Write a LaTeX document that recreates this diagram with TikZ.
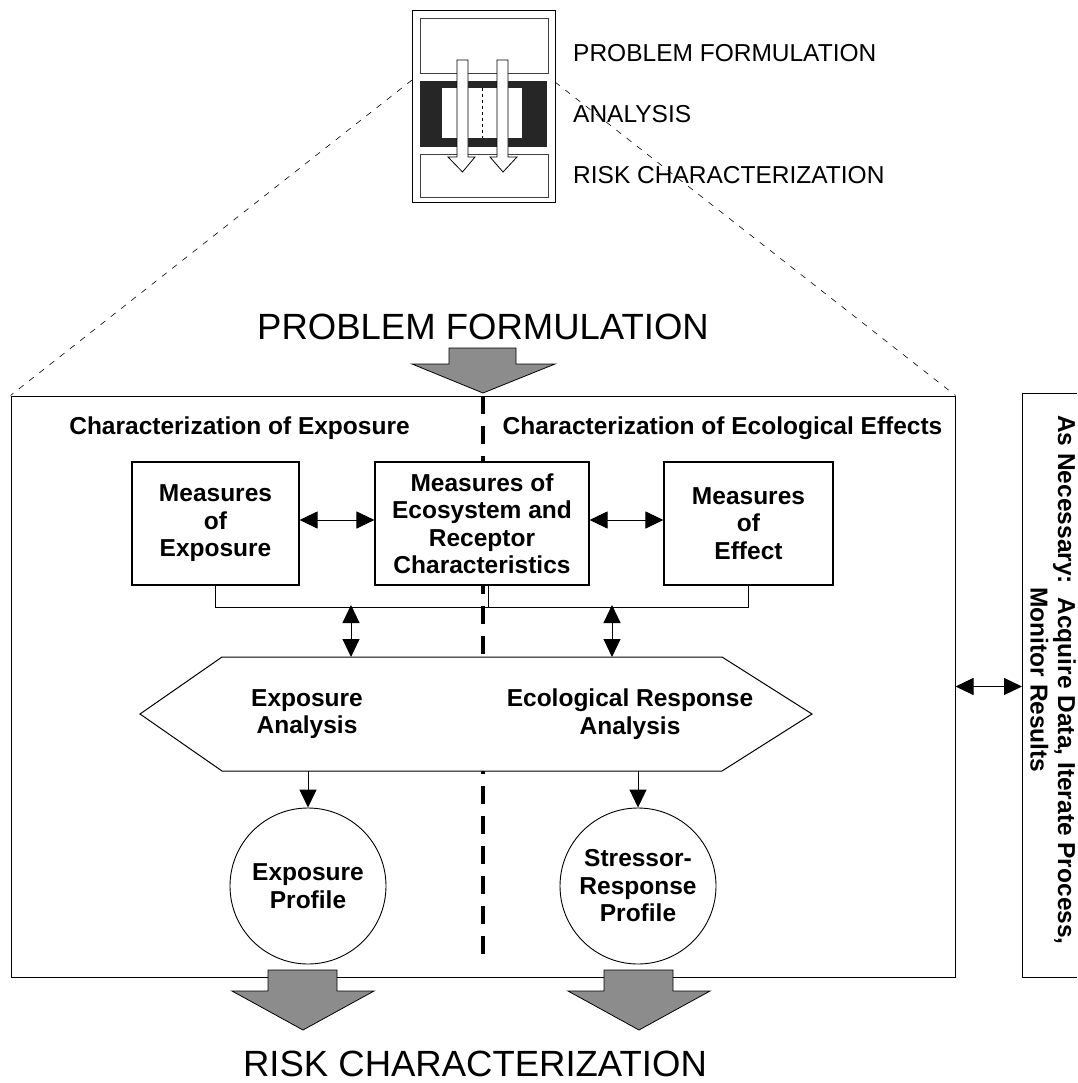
\documentclass[tikz,border=0pt]{standalone}
\usepackage{fontspec}
\setmainfont{Liberation Sans}
\usetikzlibrary{arrows.meta}

\begin{document}
\begin{tikzpicture}[x=1pt, y=-1pt,
  boxtxt/.style={font=\fontsize{24.5}{27.5}\selectfont\bfseries, align=center},
  measbox/.style={draw, line width=1.1pt, fill=white, boxtxt, minimum height=123pt, inner sep=0pt},
  profcirc/.style={circle, draw, line width=0.9pt, fill=white, boxtxt, minimum size=156pt, inner sep=0pt},
  onearrow/.style={-{Triangle[length=18pt,width=17pt]}, line width=1pt},
  dblarrow/.style={{Triangle[length=18pt,width=17pt]}-{Triangle[length=18pt,width=17pt]}, line width=1pt},
  bigarrow/.style={fill=black!45, draw=black, line width=0.8pt},
  guide/.style={line width=0.6pt, dash pattern=on 6pt off 7pt},
  biglbl/.style={font=\fontsize{36.5}{40}\selectfont, inner sep=0pt},
  smalllbl/.style={font=\fontsize{24.5}{28}\selectfont, anchor=west, inner sep=0pt}
]

\useasboundingbox (0,0) rectangle (1077,1083);

% main frame and centre line
{
\node[draw, line width=1pt, minimum width=944pt, minimum height=581pt, inner sep=0pt] (frame) at (483,686.5) {};
\draw[line width=3.5pt, dash pattern=on 18pt off 12pt] (483,396) -- (483,965);
}

% measures boxes
{
\node[measbox, minimum width=167pt] (mexp) at (215.5,523.5) {Measures\\of\\Exposure};
\node[measbox, minimum width=214pt] (meco) at (482,523.5) {Measures of\\Ecosystem and\\Receptor\\Characteristics};
\node[measbox, minimum width=169pt] (meff) at (748.5,523.5) {Measures\\of\\Effect};

\draw[dblarrow] ([yshift=3.5pt]mexp.east) -- ([yshift=3.5pt]meco.west);
\draw[dblarrow] ([yshift=3.5pt]meco.east) -- ([yshift=3.5pt]meff.west);
}

% bracket under the boxes
{
\coordinate (brA) at (351,605);
\coordinate (brB) at (612,605);
\draw[line width=0.9pt] (mexp.south) -- ++(0,21.5) -| (meff.south);
\draw[line width=0.9pt] ([xshift=6pt]meco.south) -- ++(0,21.5);
}

% analysis hexagon
{
\draw[line width=1pt, fill=white] (140,714) -- (222,657) -- (722,657) -- (812,714) -- (722,771) -- (222,771) -- cycle;
\coordinate (hexA) at (351,657);
\coordinate (hexB) at (612,657);
\coordinate (hexC) at (308,771);
\coordinate (hexD) at (638,771);
\node[boxtxt] (expan) at (307,714) {Exposure\\Analysis};
\node[boxtxt] (ecoan) at (630,714) {Ecological Response\\Analysis};

\draw[dblarrow] (brA) -- (hexA);
\draw[dblarrow] (brB) -- (hexB);
}

% profiles
{
\node[profcirc] (expprof) at (308,886) {Exposure\\Profile};
\node[profcirc] (strprof) at (638,886) {Stressor-\\Response\\Profile};
\draw[onearrow] (hexC) -- (expprof.north);
\draw[onearrow] (hexD) -- (strprof.north);
}

% column titles
\node[boxtxt, anchor=base] (chexp) at (239.5,434) {Characterization of Exposure};
\node[boxtxt, anchor=base] (checo) at (722.5,434) {Characterization of Ecological Effects};

% big labels and block arrows
{
\node[biglbl] (probform) at (483,327) {PROBLEM FORMULATION};
\node[biglbl] (riskchar) at (475,1064) {RISK CHARACTERIZATION};

\draw[bigarrow] (449,348) -- ++(67,0) -- ++(0,16) -- ++(39,0) -- (483,393) -- (412,364) -- ++(37,0) -- cycle;
\draw[bigarrow] (268,970) -- ++(69,0) -- ++(0,21) -- ++(37,0) -- (303,1030) -- (232,991) -- ++(36,0) -- cycle;
\draw[bigarrow] (604,970) -- ++(69,0) -- ++(0,21) -- ++(37,0) -- (639,1030) -- (568,991) -- ++(36,0) -- cycle;
}

% small overview icon
{
\draw[line width=0.8pt] (412,10) rectangle (555,202);
\draw[line width=0.7pt, black!75] (420,18) rectangle (548,73);
\fill[black!85] (420,81) rectangle (547,147);
\fill[white] (442,88) rectangle (522,138);
\draw[line width=0.8pt, dashed] (482,88) -- (482,138);
\draw[line width=0.7pt, black!75] (420,154) rectangle (548,197);

\draw[line width=0.8pt, fill=white] (457,60) -- ++(11,0) -- ++(0,97) -- ++(7,0) -- (462.5,172) -- (448,157) -- ++(9,0) -- cycle;
\draw[line width=0.8pt, fill=white] (497,60) -- ++(11,0) -- ++(0,97) -- ++(9,0) -- (503,172) -- (490,157) -- ++(7,0) -- cycle;

\coordinate (iconL) at (412,80);
\coordinate (iconR) at (555,82);

\node[smalllbl] (lblpf) at (573,53.5) {PROBLEM FORMULATION};
\node[smalllbl] (lblan) at (573,114) {ANALYSIS};
\node[smalllbl] (lblrc) at (573,175) {RISK CHARACTERIZATION};

\draw[guide] (iconL) -- (frame.north west);
\draw[guide] (iconR) -- (frame.north east);
}

% as necessary box
{
\draw[line width=0.9pt] (1077,393) -- (1022,393) -- (1022,977) -- (1077,977);
\coordinate (necL) at (1022,686.5);
\node[boxtxt, rotate=-90, inner sep=0pt] (nectxt) at (1053,680) {As Necessary:\ \ Acquire Data, Iterate Process,\\Monitor Results};
\draw[dblarrow] (frame.east) -- (necL);
}

\end{tikzpicture}
\end{document}
